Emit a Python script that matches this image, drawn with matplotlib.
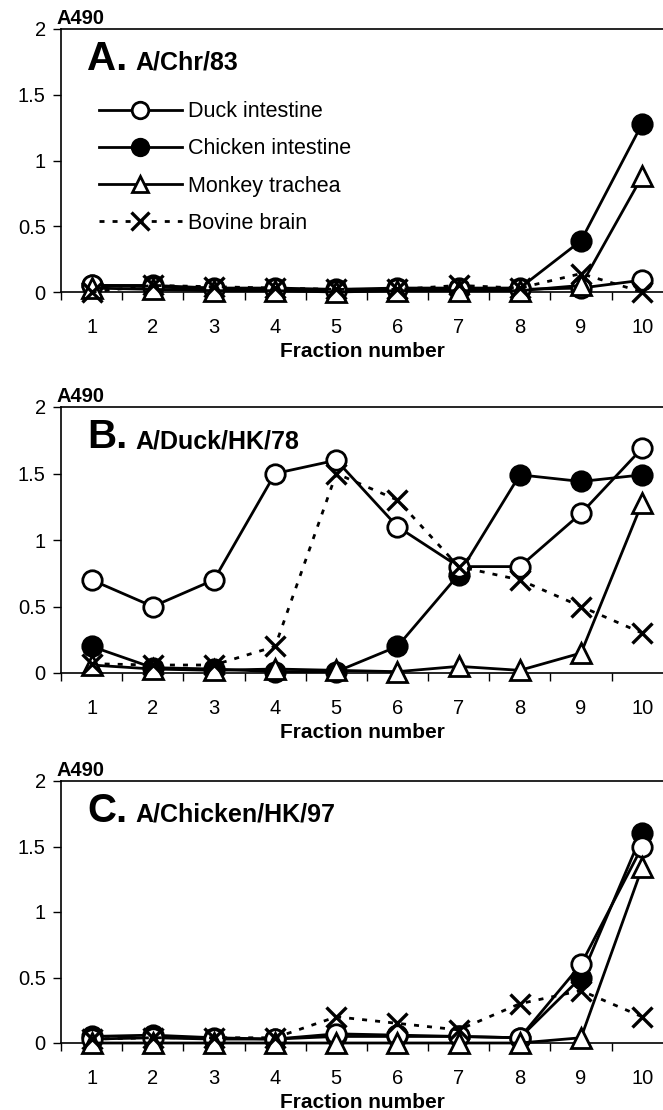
import numpy as np
import matplotlib
matplotlib.use("Agg")
import matplotlib.pyplot as plt

plt.rcParams['font.family'] = ['Liberation Sans', 'DejaVu Sans']

fractions = np.arange(1, 11)
series_names = ['Duck intestine', 'Chicken intestine', 'Monkey trachea', 'Bovine brain']

# panel A: A/Chr/83
a_duck = [0.05, 0.04, 0.02, 0.02, 0.01, 0.02, 0.02, 0.02, 0.03, 0.09]
a_chicken = [0.05, 0.05, 0.03, 0.03, 0.02, 0.03, 0.03, 0.03, 0.39, 1.28]
a_monkey = [0.03, 0.02, 0.01, 0.01, 0.0, 0.01, 0.01, 0.01, 0.05, 0.88]
a_bovine = [0.0, 0.05, 0.04, 0.03, 0.02, 0.02, 0.05, 0.03, 0.14, 0.0]

# panel B: A/Duck/HK/78
b_duck = [0.7, 0.5, 0.7, 1.5, 1.6, 1.1, 0.8, 0.8, 1.2, 1.69]
b_chicken = [0.2, 0.04, 0.03, 0.01, 0.01, 0.2, 0.74, 1.49, 1.44, 1.49]
b_monkey = [0.06, 0.03, 0.02, 0.03, 0.02, 0.01, 0.05, 0.02, 0.15, 1.28]
b_bovine = [0.07, 0.06, 0.06, 0.2, 1.5, 1.3, 0.8, 0.7, 0.5, 0.3]

# panel C: A/Chicken/HK/97
c_duck = [0.03, 0.04, 0.03, 0.03, 0.07, 0.06, 0.05, 0.04, 0.6, 1.5]
c_chicken = [0.05, 0.06, 0.04, 0.03, 0.05, 0.05, 0.05, 0.04, 0.5, 1.6]
c_monkey = [0.0, 0.0, 0.0, 0.0, 0.0, 0.0, 0.0, 0.0, 0.04, 1.34]
c_bovine = [0.03, 0.04, 0.04, 0.04, 0.2, 0.15, 0.1, 0.3, 0.4, 0.2]

panels = [
    ('A.', 'A/Chr/83', [a_duck, a_chicken, a_monkey, a_bovine]),
    ('B.', 'A/Duck/HK/78', [b_duck, b_chicken, b_monkey, b_bovine]),
    ('C.', 'A/Chicken/HK/97', [c_duck, c_chicken, c_monkey, c_bovine]),
]

styles = [
    dict(marker='o', mfc='white', ls='-', ms=14, mew=2.0, z=3),
    dict(marker='o', mfc='black', ls='-', ms=14, mew=2.0, z=2),
    dict(marker='^', mfc='white', ls='-', ms=14, mew=2.0, z=4),
    dict(marker='x', mfc='black', ls=(0, (1.8, 2.9)), ms=15, mew=2.4, z=5),
]

W, H = 663, 1110
fig = plt.figure(figsize=(W / 100, H / 100), dpi=100)

# pixel boxes (top, bottom) of each axis
boxes = [(29, 292), (407, 673), (781, 1043)]
left = 61

for (letter, strain, data), (top, bot) in zip(panels, boxes):
    ax = fig.add_axes([left / W, 1 - bot / H, 1 - left / W, (bot - top) / H])
    for name, vals, st in zip(series_names, data, styles):
        ax.plot(fractions, vals, color='black', lw=2.0, marker=st['marker'],
                mfc=st['mfc'], mec='black', mew=st['mew'], ms=st['ms'], ls=st['ls'],
                label=name, clip_on=False, zorder=st['z'])
    ax.set_xlim(0.5, 10.34)
    ax.set_ylim(0, 2)
    ax.set_xticks(fractions)
    ax.set_xticks(np.arange(0.5, 10.4, 1.0), minor=True)
    ax.tick_params(axis='x', which='major', length=0, pad=19, labelsize=14.5)
    ax.tick_params(axis='x', which='minor', length=6, width=1.0, direction='out')
    ax.set_yticks([0, 0.5, 1, 1.5, 2])
    ax.set_yticklabels(['0', '0.5', '1', '1.5', '2'])
    ax.tick_params(axis='y', length=6, width=1.0, direction='out', pad=5, labelsize=14.5)
    ax.spines['right'].set_visible(False)
    for s in ['left', 'top', 'bottom']:
        ax.spines[s].set_linewidth(1.2)
    ax.set_xlabel('Fraction number', fontsize=15, fontweight='bold', labelpad=3)
    ax.text(-0.007, 1.005, 'A490', transform=ax.transAxes, fontsize=14.5,
            fontweight='bold', ha='left', va='bottom')
    ax.text(0.043, 0.845, letter, transform=ax.transAxes, fontsize=29,
            fontweight='bold', ha='left', va='baseline')
    ax.text(0.123, 0.845, strain, transform=ax.transAxes, fontsize=18,
            fontweight='bold', ha='left', va='baseline')
    if letter == 'A.':
        ax.legend(loc='upper left', bbox_to_anchor=(0.063, 0.725), frameon=False,
                  fontsize=15.5, handlelength=3.85, handletextpad=0.28,
                  labelspacing=0.75, borderpad=0, borderaxespad=0, markerscale=0.85)

fig.savefig('out.png', dpi=100)
